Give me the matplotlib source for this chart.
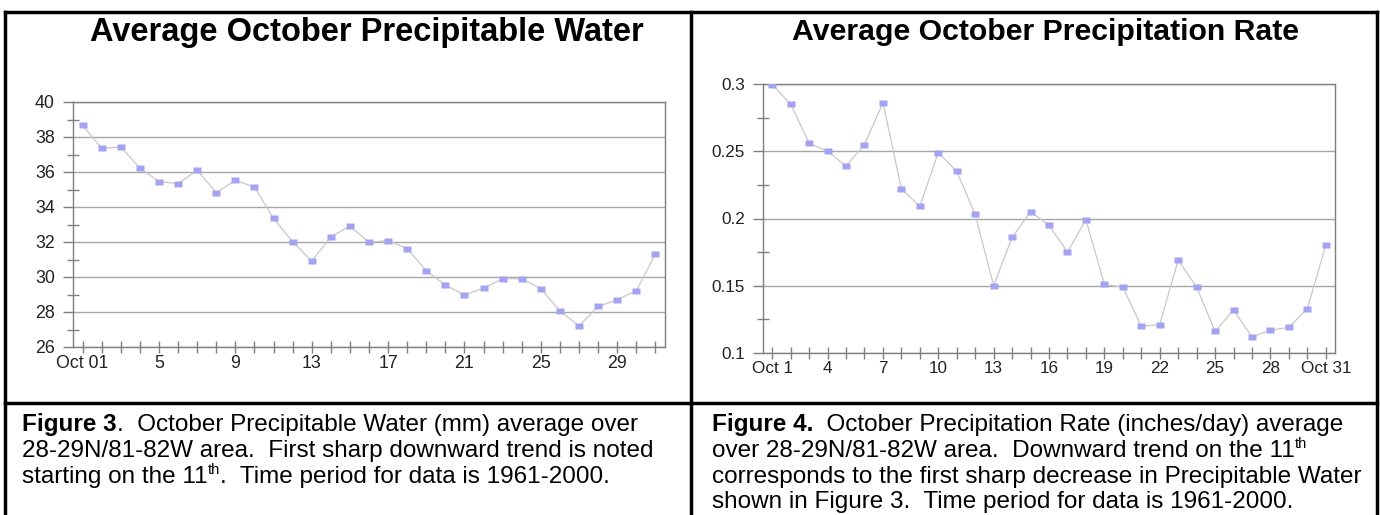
import matplotlib
matplotlib.use('Agg')
import matplotlib.pyplot as plt
from matplotlib.lines import Line2D

# ---------------- data ----------------
days = list(range(1, 32))
precip_water = [38.67, 37.35, 37.43, 36.23, 35.45, 35.33, 36.10, 34.82, 35.52, 35.14,
                33.35, 32.02, 30.91, 32.29, 32.91, 31.98, 32.08, 31.62, 30.36, 29.54,
                28.97, 29.37, 29.90, 29.90, 29.33, 28.06, 27.20, 28.32, 28.70, 29.22, 31.31]
precip_rate = [0.2995, 0.285, 0.256, 0.250, 0.239, 0.255, 0.286, 0.222, 0.209, 0.249,
               0.235, 0.203, 0.150, 0.186, 0.205, 0.195, 0.175, 0.199, 0.151, 0.149,
               0.120, 0.121, 0.169, 0.149, 0.116, 0.132, 0.112, 0.117, 0.119, 0.133, 0.180]

water_xlabel_days = [1, 5, 9, 13, 17, 21, 25, 29]
water_xlabels = ['Oct 01', '5', '9', '13', '17', '21', '25', '29']
rate_xlabel_days = [1, 4, 7, 10, 13, 16, 19, 22, 25, 28, 31]
rate_xlabels = ['Oct 1', '4', '7', '10', '13', '16', '19', '22', '25', '28', 'Oct 31']
water_yticks = [26, 28, 30, 32, 34, 36, 38, 40]
water_yminor = [27, 29, 31, 33, 35, 37, 39]
rate_yticks = [0.1, 0.15, 0.2, 0.25, 0.3]
rate_ytick_labels = ['0.1', '0.15', '0.2', '0.25', '0.3']
rate_yminor = [0.125, 0.175, 0.225, 0.275]

title_water = 'Average October Precipitable Water'
title_rate = 'Average October Precipitation Rate'

# ---------------- layout helpers ----------------
W, H = 1380, 515
FONT = 'Liberation Sans'
plt.rcParams['font.family'] = [FONT, 'DejaVu Sans']

fig = plt.figure(figsize=(W / 100, H / 100), dpi=100)
fig.patch.set_facecolor('white')


def fx(x):
    return x / W


def fy(y):
    return 1 - y / H


def axes_px(x0, y0, x1, y1):
    return fig.add_axes([fx(x0), fy(y1), (x1 - x0) / W, (y1 - y0) / H])


LINE_C = '#c8c8c8'
MARK_C = '#a3a3f2'
GRID_C = '#a6a6a6'
SPINE_C = '#7f7f7f'
rect_marker = [(-1.35, -1), (1.35, -1), (1.35, 1), (-1.35, 1), (-1.35, -1)]


def style_axes(ax, xlabel_days, xlabels, yticks, ylabels, yminor, labelsize):
    ax.set_xlim(0.5, 31.5)
    for s in ax.spines.values():
        s.set_color(SPINE_C)
        s.set_linewidth(1.0)
    ax.yaxis.grid(True, which='major', color=GRID_C, lw=1.0)
    ax.set_axisbelow(True)
    lab = [xlabels[xlabel_days.index(d)] if d in xlabel_days else '' for d in days]
    ax.set_xticks(days)
    ax.set_xticklabels(lab)
    ax.set_yticks(yticks)
    ax.set_yticklabels(ylabels)
    ax.set_yticks(yminor, minor=True)
    ax.tick_params(axis='x', direction='inout', length=8, width=1, color=SPINE_C,
                   labelsize=labelsize, labelcolor='#222222', pad=2)
    ax.tick_params(axis='y', which='major', direction='out', length=7, width=1,
                   color=SPINE_C, labelsize=labelsize, labelcolor='#222222', pad=6)
    ax.tick_params(axis='y', which='minor', direction='inout', length=8, width=1,
                   color=SPINE_C)


# ---------------- left chart ----------------
ax1 = axes_px(73, 102, 665, 347)
ax1.plot(days, precip_water, color=LINE_C, lw=0.9, zorder=2)
ax1.plot(days, precip_water, ls='none', marker=rect_marker, ms=5.4,
         mfc=MARK_C, mec='none', zorder=3)
ax1.set_ylim(26, 40)
style_axes(ax1, water_xlabel_days, water_xlabels, water_yticks,
           [str(v) for v in water_yticks], water_yminor, 12.8)

# ---------------- right chart ----------------
ax2 = axes_px(763, 84, 1335, 353)
ax2.plot(days, precip_rate, color=LINE_C, lw=0.9, zorder=2)
ax2.plot(days, precip_rate, ls='none', marker=rect_marker, ms=5.4,
         mfc=MARK_C, mec='none', zorder=3)
ax2.set_ylim(0.1, 0.3)
style_axes(ax2, rate_xlabel_days, rate_xlabels, rate_yticks,
           rate_ytick_labels, rate_yminor, 12.3)

# ---------------- titles ----------------
fig.text(fx(367), fy(41.5), title_water, ha='center', va='baseline',
         fontsize=23.5, fontweight='bold', color='black')
fig.text(fx(1046), fy(39.5), title_rate, ha='center', va='baseline',
         fontsize=21.8, fontweight='bold', color='black')

# ---------------- table borders ----------------
BL = 2.5
for (x0, y0, x1, y1) in [(5, 12, 1377, 12), (5, 12, 5, 515), (1377, 12, 1377, 515),
                         (691, 12, 691, 515), (5, 403, 1377, 403)]:
    fig.add_artist(Line2D([fx(x0), fx(x1)], [fy(y0), fy(y1)], color='black',
                          lw=BL, solid_capstyle='projecting'))

# ---------------- captions ----------------
fig.canvas.draw()
renderer = fig.canvas.get_renderer()
CAP = 17.5
SUP = 10.5


def runs(x0, y0, parts):
    x = x0
    for text, size, weight, dy in parts:
        t = fig.text(fx(x), fy(y0 - dy), text, fontsize=size, fontweight=weight,
                     ha='left', va='baseline', color='black')
        x += t.get_window_extent(renderer).width


B0, PITCH = 431, 25.8
left_caption = [
    [('Figure 3', CAP, 'bold', 0), ('.  October Precipitable Water (mm) average over', CAP, 'normal', 0)],
    [('28-29N/81-82W area.  First sharp downward trend is noted', CAP, 'normal', 0)],
    [('starting on the 11', CAP, 'normal', 0), ('th', SUP, 'normal', 8.5),
     ('.  Time period for data is 1961-2000.', CAP, 'normal', 0)],
]
right_caption = [
    [('Figure 4.', CAP, 'bold', 0), ('  October Precipitation Rate (inches/day) average', CAP, 'normal', 0)],
    [('over 28-29N/81-82W area.  Downward trend on the 11', CAP, 'normal', 0), ('th', SUP, 'normal', 8.5)],
    [('corresponds to the first sharp decrease in Precipitable Water', CAP, 'normal', 0)],
    [('shown in Figure 3.  Time period for data is 1961-2000.', CAP, 'normal', 0)],
]
for i, parts in enumerate(left_caption):
    runs(22, B0 + i * PITCH, parts)
for i, parts in enumerate(right_caption):
    runs(712, B0 + i * PITCH, parts)

fig.savefig('out.png', dpi=100, facecolor='white')
